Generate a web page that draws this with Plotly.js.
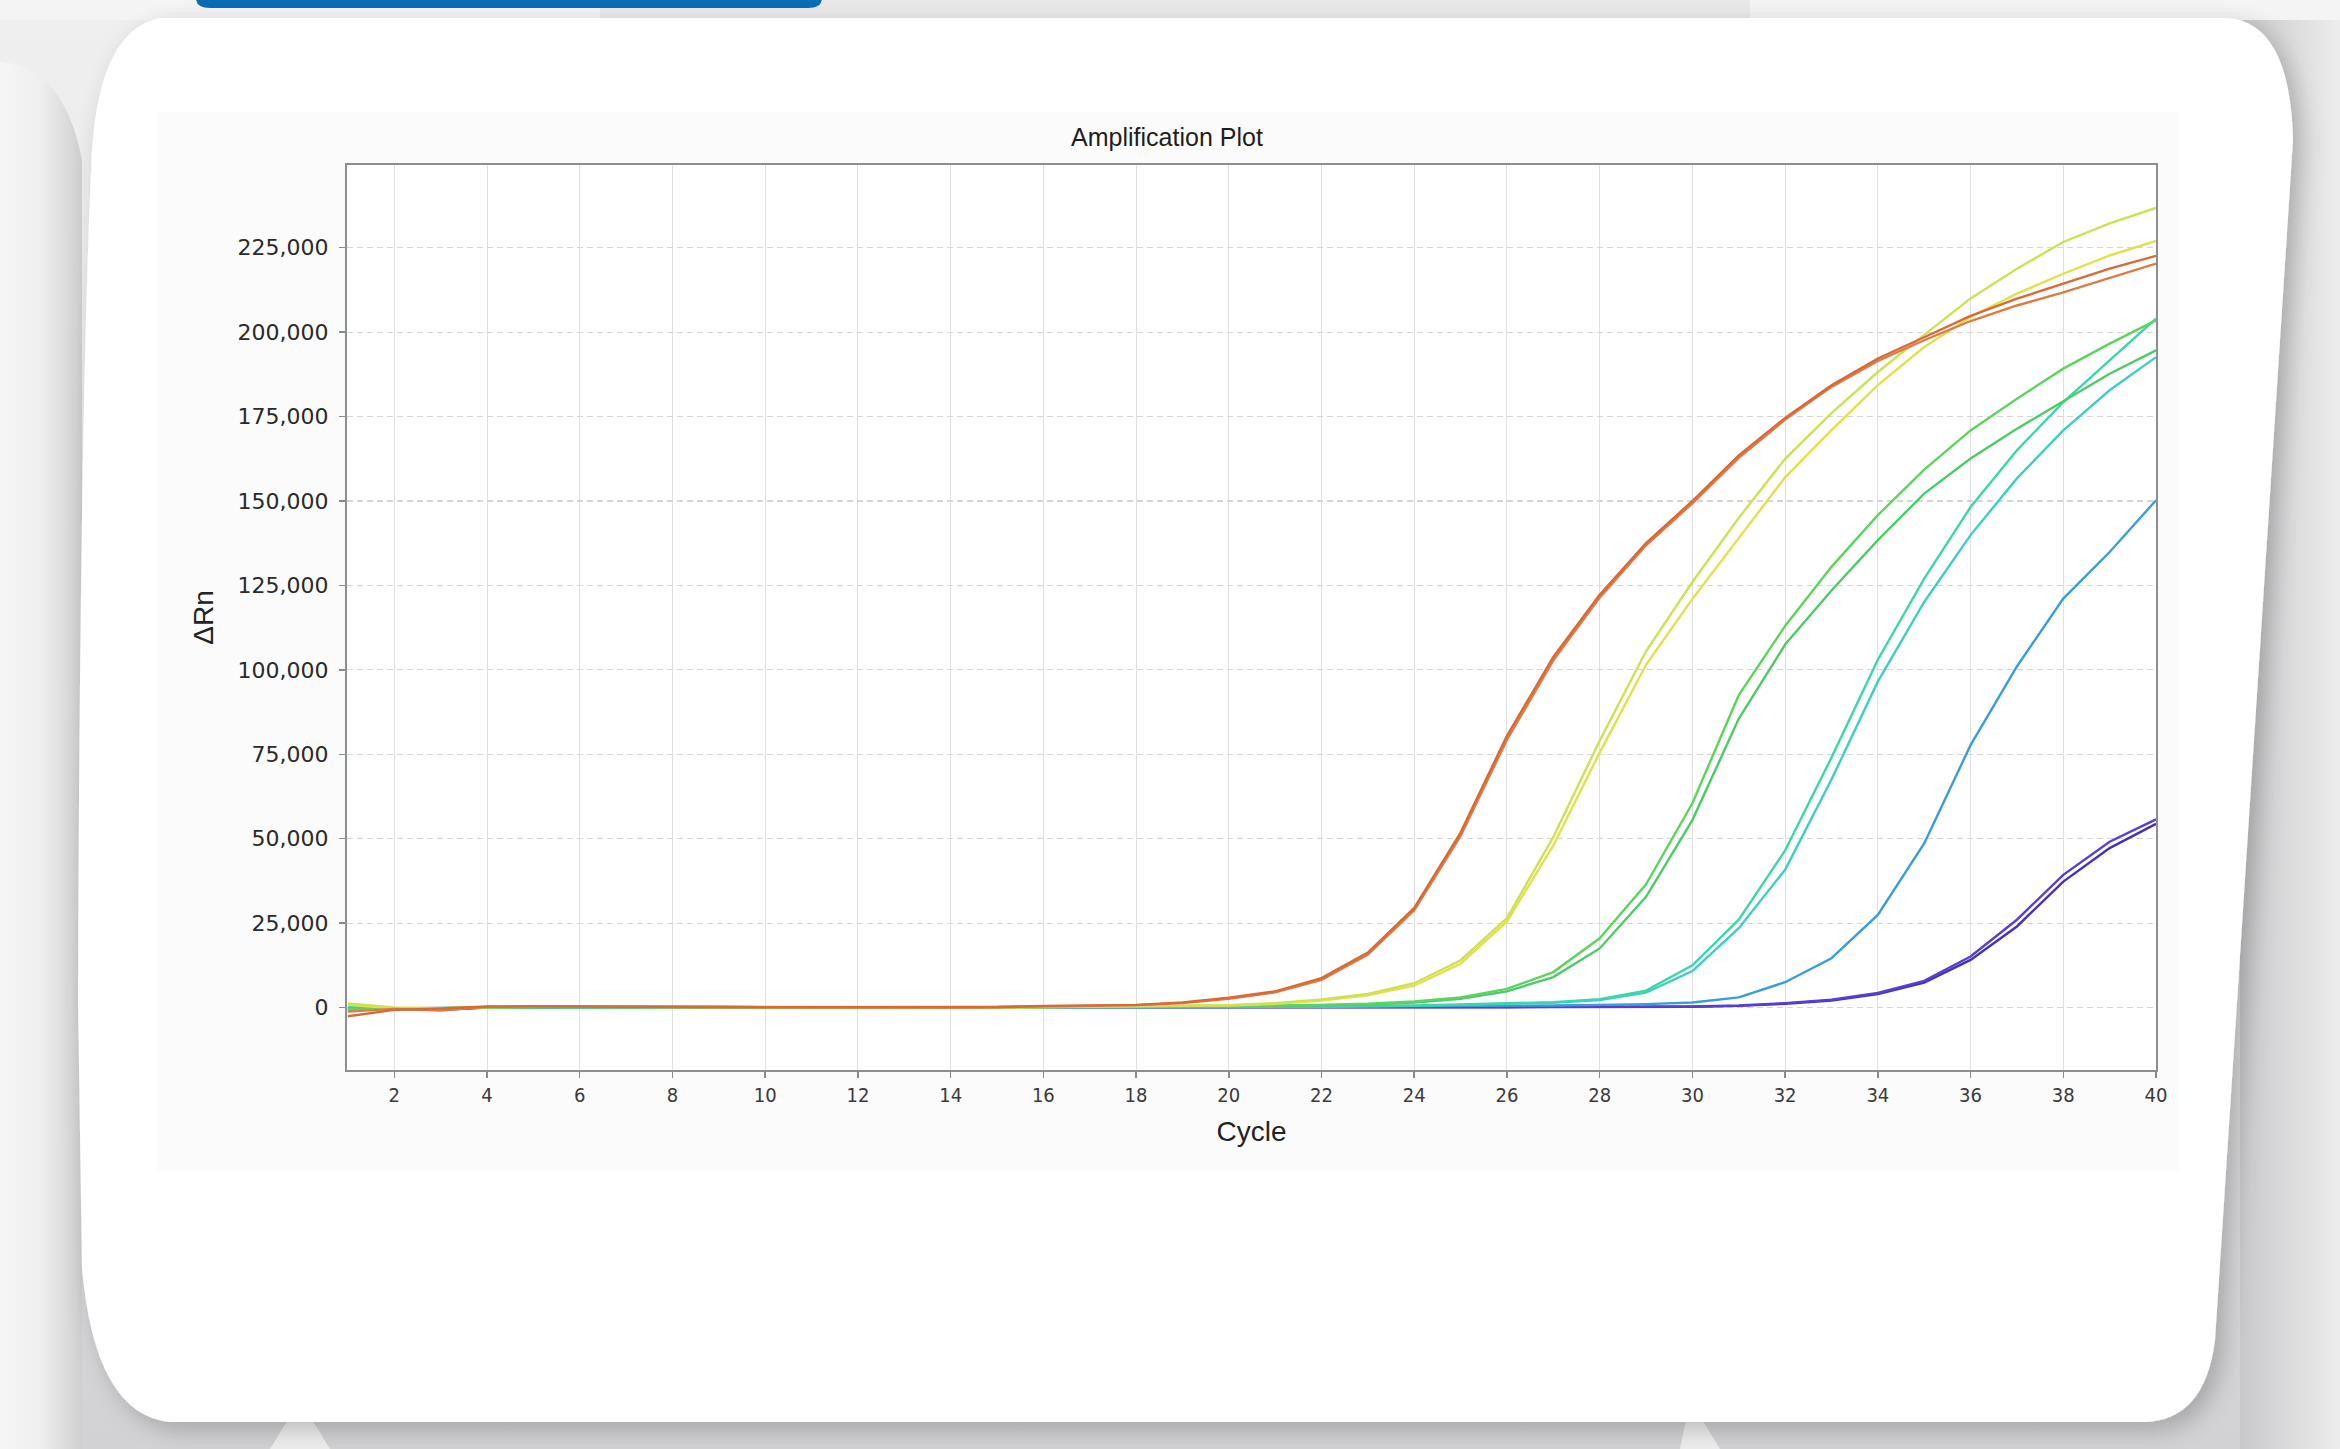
<!DOCTYPE html>
<html>
<head>
<meta charset="utf-8">
<script src="https://cdn.plot.ly/plotly-3.0.1.min.js"></script>
<style>
  html, body { margin: 0; padding: 0; }
  body { width: 2340px; height: 1449px; position: relative; overflow: hidden; background: #e2e2e4; }
  #deco { position: absolute; left: 0; top: 0; }
  #plot { position: absolute; left: 0; top: 0; width: 2340px; height: 1449px; }
</style>
</head>
<body>
<svg id="deco" width="2340" height="1449" viewBox="0 0 2340 1449" xmlns="http://www.w3.org/2000/svg">
  <defs>
    <linearGradient id="bgGrad" x1="0" y1="0" x2="0" y2="1">
      <stop offset="0" stop-color="#efeff0"/>
      <stop offset="0.5" stop-color="#e6e6e8"/>
      <stop offset="1" stop-color="#d2d2d4"/>
    </linearGradient>
    <linearGradient id="leftGrad" x1="0" y1="0" x2="1" y2="0">
      <stop offset="0" stop-color="#f7f7f7"/>
      <stop offset="0.55" stop-color="#efefef"/>
      <stop offset="1" stop-color="#cfcfd1"/>
    </linearGradient>
    <linearGradient id="rightGrad" x1="0" y1="0" x2="1" y2="0">
      <stop offset="0" stop-color="#c9c9cb"/>
      <stop offset="1" stop-color="#ededee"/>
    </linearGradient>
    <filter id="shadow" x="-5%" y="-5%" width="110%" height="110%">
      <feDropShadow dx="8" dy="8" stdDeviation="12" flood-color="#000000" flood-opacity="0.22"/>
    </filter>
  </defs>
  <rect x="0" y="0" width="2340" height="1449" fill="url(#bgGrad)"/>
  <rect x="2240" y="0" width="100" height="1449" fill="url(#rightGrad)"/>
  <rect x="0" y="0" width="2340" height="20" fill="#f4f4f5"/>
  <rect x="600" y="0" width="1150" height="20" fill="#e9e9ea"/>
  <path d="M -10 62 Q 62 58 82 160 L 82 1449 L -10 1449 Z" fill="url(#leftGrad)"/>
  <path d="M 270 1449 L 300 1400 L 330 1449 Z" fill="#eeeeef"/>
  <path d="M 1680 1449 L 1690 1400 L 1720 1449 Z" fill="#eeeeef"/>
  <path d="M 196 0 L 822 0 L 822 10 Q 822 20 808 20 L 210 20 Q 196 20 196 10 Z" fill="#0a6cb6" transform="translate(0,-12)"/>
  <path filter="url(#shadow)" fill="#ffffff"
        d="M 160 18 L 2225 18 Q 2290 20 2293 140 L 2215 1340 Q 2205 1420 2145 1422 L 170 1422 Q 95 1415 82 1268 L 78 1000 Q 80 400 92 150 Q 100 30 160 18 Z"/>
  <rect x="157" y="112" width="2022" height="1059" fill="#fbfbfb"/>
</svg>
<div id="plot"></div>
<script>
// ---------- data ----------
const cycles = [1,2,3,4,5,6,7,8,9,10,11,12,13,14,15,16,17,18,19,20,21,22,23,24,25,26,27,28,29,30,31,32,33,34,35,36,37,38,39,40];

const orangeA = [-2600,-700,-300,300,400,300,200,200,100,100,100,150,100,50,150,500,550,800,1500,2900,4800,8700,16300,29500,51800,80500,103800,122200,137500,150000,163500,174600,184300,192200,198500,204800,209900,214300,218800,222600];
const orangeB = [-1200,-400,-900,200,300,250,150,100,50,100,150,100,50,0,100,400,500,700,1300,2600,4500,8200,15700,28800,50800,79300,102800,121400,136900,149300,162800,174100,183800,191500,197600,203300,207900,211800,216000,220300];
const yellowA = [1200,0,-200,200,250,200,250,200,100,100,150,100,50,0,50,200,300,400,500,700,1300,2400,4000,7200,14000,26500,50500,79000,105500,126000,145000,162500,176000,188200,199200,210000,218800,226700,232200,236800];
const yellowB = [800,-200,-400,150,200,150,200,150,100,50,100,100,50,0,50,150,250,300,400,600,1100,2100,3600,6500,13000,25500,48000,75500,101500,121000,139000,157000,171000,184300,195600,204500,211400,217300,222700,227000];
const greenA  = [-500,-300,-200,100,150,200,250,250,150,100,100,50,50,0,50,100,150,200,300,400,500,800,1100,1800,3000,5500,10500,20500,36500,60500,92500,113000,130500,145800,159300,170900,180300,189200,196600,203500];
const greenB  = [-300,-500,-300,50,100,150,200,200,150,100,50,50,0,0,50,100,100,150,250,350,450,700,900,1500,2600,4800,9000,17500,32800,55500,85500,107500,123500,138400,152200,162600,171400,179500,187700,194600];
const cyanA   = [400,-300,-200,100,100,150,200,150,100,50,50,50,0,0,0,50,100,100,150,200,250,300,400,600,900,1200,1600,2500,5000,12500,26000,46500,74000,103000,127000,148200,165000,179300,191600,204000];
const cyanB   = [200,-400,-300,50,100,100,150,100,50,50,50,0,0,0,0,50,50,100,100,150,200,250,350,500,800,1100,1400,2200,4400,10800,23500,40800,67500,96500,120100,139900,156700,170900,182800,192600];
const blueA   = [-800,-300,-100,100,100,100,100,100,50,50,0,0,0,-50,0,0,50,50,100,150,200,250,300,350,400,500,600,800,1000,1500,3000,7500,14600,27400,48600,77700,101000,121100,134900,150200];
const purpleA = [-400,-200,-600,50,100,100,50,50,0,0,0,0,-50,-50,-50,0,0,0,50,50,50,100,100,100,100,150,200,200,250,300,600,1300,2300,4300,7900,15100,26000,39300,49100,55700];
const purpleB = [-600,-300,-700,0,50,50,50,0,0,0,-50,-50,-50,-100,-50,0,0,0,0,50,50,50,100,100,100,100,150,150,200,250,500,1100,2100,4000,7400,14100,24000,37300,47200,54400];

const seriesNames  = ["Well A1","Well A2","Well B1","Well B2","Well C1","Well C2","Well D1","Well D2","Well E1","Well F1","Well F2"];
const seriesValues = [orangeA, orangeB, yellowA, yellowB, greenA, greenB, cyanA, cyanB, blueA, purpleA, purpleB];
const seriesColors = ["#d96a36","#e07a44","#cfe052","#e0e24c","#5cd45e","#4ccb68","#3cd6aa","#3ecfc2","#3a9ddb","#5a3ed4","#4430bf"];

const yTickVals = [0,25000,50000,75000,100000,125000,150000,175000,200000,225000];
const xTickVals = [2,4,6,8,10,12,14,16,18,20,22,24,26,28,30,32,34,36,38,40];

// ---------- traces ----------
const traces = seriesValues.map((vals, i) => ({
  type: "scatter",
  mode: "lines",
  name: seriesNames[i],
  x: cycles,
  y: vals,
  line: { color: seriesColors[i], width: 2.4 },
  hoverinfo: "x+y+name"
})).reverse();

const layout = {
  width: 2340,
  height: 1449,
  paper_bgcolor: "rgba(0,0,0,0)",
  plot_bgcolor: "#ffffff",
  showlegend: false,
  margin: { l: 347, r: 184, t: 165, b: 379, pad: 0 },
  title: {
    text: "Amplification Plot",
    x: 0.4987, xanchor: "center",
    y: 0.9055, yanchor: "middle",
    font: { family: "Liberation Sans, Arial, sans-serif", size: 25, color: "#1e1e1e" }
  },
  xaxis: {
    range: [0.98, 40],
    tickvals: xTickVals,
    ticks: "outside", ticklen: 6, tickwidth: 1.5, tickcolor: "#8a8a8a",
    showline: true, linecolor: "#8e8e8e", linewidth: 2, mirror: true,
    showgrid: true, gridcolor: "#e0e0e0", gridwidth: 1,
    zeroline: false,
    tickfont: { family: "Liberation Sans Narrow, DejaVu Sans Condensed, Arial Narrow, sans-serif", size: 20, color: "#3a3a3a" },
    title: { text: "Cycle", standoff: 15,
             font: { family: "Liberation Sans, Arial, sans-serif", size: 28, color: "#222222" } }
  },
  yaxis: {
    range: [-18500, 249500],
    tickvals: yTickVals,
    tickformat: ",d",
    ticks: "outside", ticklen: 6, tickwidth: 1.5, tickcolor: "#8a8a8a",
    showline: true, linecolor: "#8e8e8e", linewidth: 2, mirror: true,
    showgrid: true, gridcolor: "#d6d6d6", gridwidth: 1.2, griddash: "6px,4px",
    zeroline: false,
    tickfont: { family: "DejaVu Sans, Verdana, sans-serif", size: 22, color: "#2a2a2a" },
    ticklabelstandoff: 6,
    title: { text: "ΔRn", standoff: 16,
             font: { family: "Liberation Sans, Arial, sans-serif", size: 28, color: "#222222" } }
  }
};

Plotly.newPlot("plot", traces, layout, { displayModeBar: false, staticPlot: true });
</script>
</body>
</html>
